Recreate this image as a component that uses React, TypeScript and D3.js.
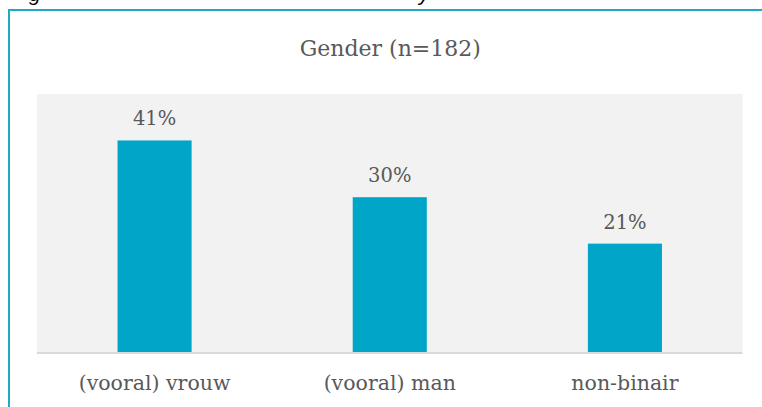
import React from "react";
import * as d3 from "d3";

const categories = ["(vooral) vrouw", "(vooral) man", "non-binair"];
const percentages = [41, 30, 21];
const chartTitle = "Gender (n=182)";

const W = 762;
const H = 407;
const plot = { left: 37, right: 742.5, top: 94, bottom: 352 };
const serif = "'DejaVu Serif', 'Liberation Serif', serif";
const textColor = "#595959";

const App = () => {
  const x = d3
    .scaleBand<string>()
    .domain(categories)
    .range([plot.left, plot.right])
    .paddingInner(0.685)
    .paddingOuter(0.3425);

  const y = d3.scaleLinear().domain([0, 50]).range([plot.bottom, plot.top]);

  return (
    <svg
      width={W}
      height={H}
      style={{ position: "absolute", left: 0, top: 0, background: "#fff" }}
    >
      {/* caption of the figure above, cut off at the top */}
      <text x={29} y={0.5} fontFamily="'Liberation Sans', sans-serif" fontStyle="italic" fontSize={21} fill="#000">
        g
      </text>
      <text x={419} y={0.5} fontFamily="'Liberation Sans', sans-serif" fontStyle="italic" fontSize={21} fill="#000">
        y
      </text>

      {/* frame */}
      <line x1={8} x2={W} y1={10} y2={10} stroke="#1ea9c8" strokeWidth={2} />
      <line x1={9} x2={9} y1={9} y2={H} stroke="#1ea9c8" strokeWidth={2} />

      <text
        x={(plot.left + plot.right) / 2 + 0.5}
        y={56}
        textAnchor="middle"
        fontFamily={serif}
        fontSize={22}
        fill={textColor}
      >
        {chartTitle}
      </text>

      <rect
        x={plot.left}
        y={plot.top}
        width={plot.right - plot.left}
        height={plot.bottom - plot.top}
        fill="#f2f2f2"
      />

      {categories.map((c, i) => (
        <g key={c}>
          <rect
            x={x(c)}
            y={y(percentages[i])}
            width={x.bandwidth()}
            height={y(0) - y(percentages[i])}
            fill="#00a5c8"
          />
          <text
            x={(x(c) ?? 0) + x.bandwidth() / 2}
            y={y(percentages[i]) - 15}
            textAnchor="middle"
            fontFamily={serif}
            fontSize={19.5}
            fill={textColor}
          >
            {percentages[i]}%
          </text>
          <text
            x={(x(c) ?? 0) + x.bandwidth() / 2}
            y={390}
            textAnchor="middle"
            fontFamily={serif}
            fontSize={20.5}
            fill={textColor}
          >
            {c}
          </text>
        </g>
      ))}

      <line
        x1={plot.left}
        x2={plot.right}
        y1={y(0) + 1}
        y2={y(0) + 1}
        stroke="#d9d9d9"
        strokeWidth={2}
      />
    </svg>
  );
};

export default App;
